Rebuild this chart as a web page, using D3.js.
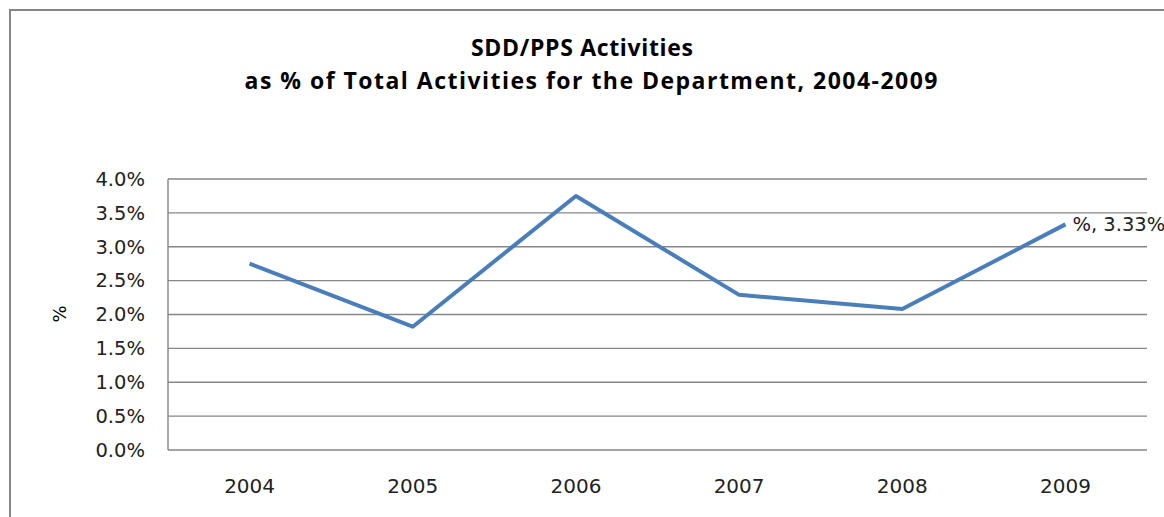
<!DOCTYPE html>
<html>
<head>
<meta charset="utf-8">
<script src="https://cdn.jsdelivr.net/npm/d3@7/dist/d3.min.js"></script>
<style>
  body { margin: 0; background: #fff; }
  svg { display: block; font-family: "DejaVu Sans", sans-serif; }
</style>
</head>
<body>
<svg id="chartSVG" width="1164" height="517"></svg>
<script>
// chart data
var years = ["2004", "2005", "2006", "2007", "2008", "2009"];
var pctValues = [2.75, 1.82, 3.75, 2.29, 2.08, 3.33];
var yTicks = [0, 0.5, 1, 1.5, 2, 2.5, 3, 3.5, 4];
var titleLines = ["SDD/PPS Activities", "as % of Total Activities for the Department, 2004-2009"];
var seriesName = "%";

var svg = d3.select("#chartSVG");
var gridColor = "#868686";
var labelFont = "\"DejaVu Sans\", sans-serif";

// outer chart border (cut off on right/bottom like the source)
svg.append("rect")
  .attr("x", 10).attr("y", 10)
  .attr("width", 1170).attr("height", 520)
  .attr("fill", "none")
  .attr("stroke", gridColor)
  .attr("stroke-width", 2);

// title - widths stretched to match the source rendering
var titleWidths = [222, 693];
var titleCenters = [582, 591];
svg.append("g").selectAll("text")
  .data(titleLines)
  .enter().append("text")
  .attr("x", function(d, i) { return titleCenters[i]; })
  .attr("y", function(d, i) { return 56 + i * 33; })
  .attr("text-anchor", "middle")
  .attr("font-family", "\"Open Sans\", sans-serif")
  .attr("font-size", "23px")
  .attr("font-weight", "bold")
  .attr("textLength", function(d, i) { return titleWidths[i]; })
  .attr("lengthAdjust", "spacing")
  .attr("fill", "#000")
  .text(function(d) { return d; });

var plot = { left: 168, top: 179, right: 1147, bottom: 450 };

var x = d3.scaleBand().domain(years).range([plot.left, plot.right]);
var y = d3.scaleLinear().domain([0, 4]).range([plot.bottom, plot.top]);

// gridlines
svg.append("g")
  .selectAll("line")
  .data(yTicks)
  .enter().append("line")
  .attr("x1", plot.left).attr("x2", plot.right)
  .attr("y1", function(d) { return y(d); })
  .attr("y2", function(d) { return y(d); })
  .attr("stroke", gridColor)
  .attr("stroke-width", 1.4);

// left axis line
svg.append("line")
  .attr("x1", plot.left).attr("x2", plot.left)
  .attr("y1", plot.top).attr("y2", plot.bottom)
  .attr("stroke", gridColor)
  .attr("stroke-width", 1.4);

// y tick labels
var yAxis = d3.axisLeft(y)
  .tickValues(yTicks)
  .tickSize(0)
  .tickPadding(23)
  .tickFormat(function(d) { return d3.format(".1f")(d) + "%"; });

var ya = svg.append("g")
  .attr("transform", "translate(" + plot.left + ",0)")
  .call(yAxis);
ya.select(".domain").remove();
ya.selectAll("text")
  .attr("font-size", "19.5px")
  .attr("font-family", labelFont)
  .attr("fill", "#222");

// x tick labels
var xAxis = d3.axisBottom(x).tickSize(0).tickPadding(29);
var xa = svg.append("g")
  .attr("transform", "translate(0," + plot.bottom + ")")
  .call(xAxis);
xa.select(".domain").remove();
xa.selectAll("text")
  .attr("font-size", "20px")
  .attr("font-family", labelFont)
  .attr("fill", "#222");

// y axis title
svg.append("text")
  .attr("transform", "translate(66,314) rotate(-90)")
  .attr("text-anchor", "middle")
  .attr("font-size", "18px")
  .attr("font-family", labelFont)
  .attr("fill", "#000")
  .text(seriesName);

// series line
var line = d3.line()
  .x(function(d, i) { return x(years[i]) + x.bandwidth() / 2; })
  .y(function(d) { return y(d); });

svg.append("path")
  .datum(pctValues)
  .attr("d", line)
  .attr("fill", "none")
  .attr("stroke", "#4a7ebb")
  .attr("stroke-width", 4)
  .attr("stroke-linejoin", "round");

// data label on last point
var last = pctValues.length - 1;
svg.append("text")
  .attr("x", x(years[last]) + x.bandwidth() / 2 + 7)
  .attr("y", y(pctValues[last]) + 7)
  .attr("font-size", "19.5px")
  .attr("font-family", labelFont)
  .attr("fill", "#222")
  .text(seriesName + ", " + d3.format(".2f")(pctValues[last]) + "%");
</script>
</body>
</html>
